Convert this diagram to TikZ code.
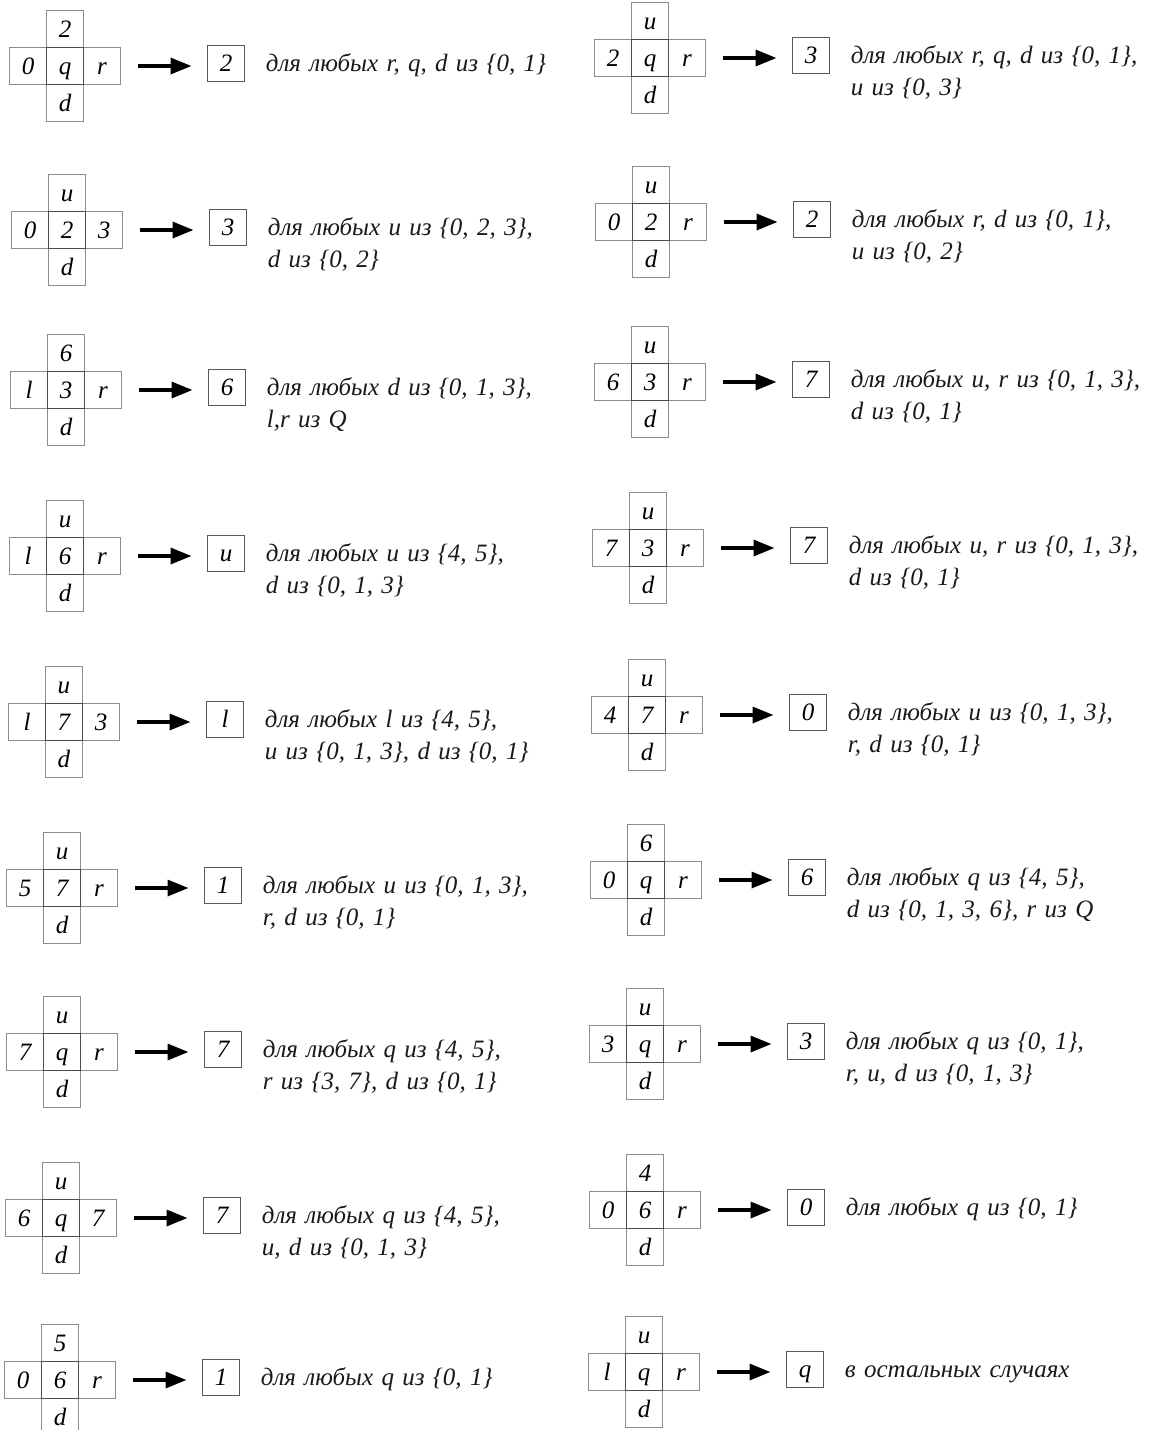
\documentclass[tikz,border=0pt]{standalone}
\usepackage{fontspec}
\setmainfont{Liberation Serif}
\usepackage{tikz}
\usetikzlibrary{positioning,arrows.meta}

\tikzset{
  cell/.style={draw=black!45, line width=0.5pt, minimum width=18.5pt, minimum height=18.5pt,
    inner sep=0pt, outer sep=0pt, text height=9.5pt, text depth=1.1pt,
    font=\itshape\fontsize{12.5}{14}\selectfont},
  midcell/.style={draw=black!70, line width=0.5pt},
  result/.style={cell, draw=black!65, minimum height=18pt},
  ruleto/.style={line width=1.7pt, -{Triangle[length=10.5pt,width=8pt]},
    shorten <=8.5pt, shorten >=8pt},
  desc/.style={anchor=base west, inner sep=0pt, text width=170pt, align=left,
    text=black!90, font=\itshape\fontsize{12.5}{16}\selectfont}
}

% one rule: #1 name, #2 centre, #3 left, #4 centre cell, #5 right, #6 top, #7 new state, #8 condition
\newcommand{\crossrule}[8]{%
  \node[cell] (#1c) at (#2) {#4};
  \node[cell, above=0pt of #1c] (#1u) {#6};
  \node[cell, below=0pt of #1c] (#1d) {d};
  \node[cell, left=0pt of #1c] (#1l) {#3};
  \node[cell, right=0pt of #1c] (#1r) {#5};
  \draw[midcell] (#1c.south west) rectangle (#1c.north east);
  \node[result] (#1v) at ([xshift=80.5pt, yshift=1.5pt]#1c.center) {#7};
  \draw[ruleto] (#1r.east) -- (#1r.east -| #1v.west);
  \node[desc] (#1t) at ([xshift=10.5pt, yshift=-4pt]#1v.east) {#8};
}

\begin{document}
\begin{tikzpicture}[x=0.5pt, y=-0.5pt]
    \useasboundingbox (0,0) rectangle (1153,1430);
    % Left column
    \crossrule{l1}{65,66}{0}{q}{r}{2}{2}{для любых r, q, d из \{0, 1\}}
    \crossrule{l2}{67,230}{0}{2}{3}{u}{3}{для любых u из \{0, 2, 3\},\\ d из \{0, 2\}}
    \crossrule{l3}{66,390}{l}{3}{r}{6}{6}{для любых d из \{0, 1, 3\},\\ l,r из Q}
    \crossrule{l4}{65,556}{l}{6}{r}{u}{u}{для любых u из \{4, 5\},\\ d из \{0, 1, 3\}}
    \crossrule{l5}{64,722}{l}{7}{3}{u}{l}{для любых l из \{4, 5\},\\ u из \{0, 1, 3\}, d из \{0, 1\}}
    \crossrule{l6}{62,888}{5}{7}{r}{u}{1}{для любых u из \{0, 1, 3\},\\ r, d из \{0, 1\}}
    \crossrule{l7}{62,1052}{7}{q}{r}{u}{7}{для любых q из \{4, 5\},\\ r из \{3, 7\}, d из \{0, 1\}}
    \crossrule{l8}{61,1218}{6}{q}{7}{u}{7}{для любых q из \{4, 5\},\\ u, d из \{0, 1, 3\}}
    \crossrule{l9}{60,1380}{0}{6}{r}{5}{1}{для любых q из \{0, 1\}}
    % Right column
    \crossrule{r1}{650,58}{2}{q}{r}{u}{3}{для любых r, q, d из \{0, 1\},\\ u из \{0, 3\}}
    \crossrule{r2}{651,222}{0}{2}{r}{u}{2}{для любых r, d из \{0, 1\},\\ u из \{0, 2\}}
    \crossrule{r3}{650,382}{6}{3}{r}{u}{7}{для любых u, r из \{0, 1, 3\},\\ d из \{0, 1\}}
    \crossrule{r4}{648,548}{7}{3}{r}{u}{7}{для любых u, r из \{0, 1, 3\},\\ d из \{0, 1\}}
    \crossrule{r5}{647,715}{4}{7}{r}{u}{0}{для любых u из \{0, 1, 3\},\\ r, d из \{0, 1\}}
    \crossrule{r6}{646,880}{0}{q}{r}{6}{6}{для любых q из \{4, 5\},\\ d из \{0, 1, 3, 6\}, r из Q}
    \crossrule{r7}{645,1044}{3}{q}{r}{u}{3}{для любых q из \{0, 1\},\\ r, u, d из \{0, 1, 3\}}
    \crossrule{r8}{645,1210}{0}{6}{r}{4}{0}{для любых q из \{0, 1\}}
    \crossrule{r9}{644,1372}{l}{q}{r}{u}{q}{в остальных случаях}
\end{tikzpicture}
\end{document}
